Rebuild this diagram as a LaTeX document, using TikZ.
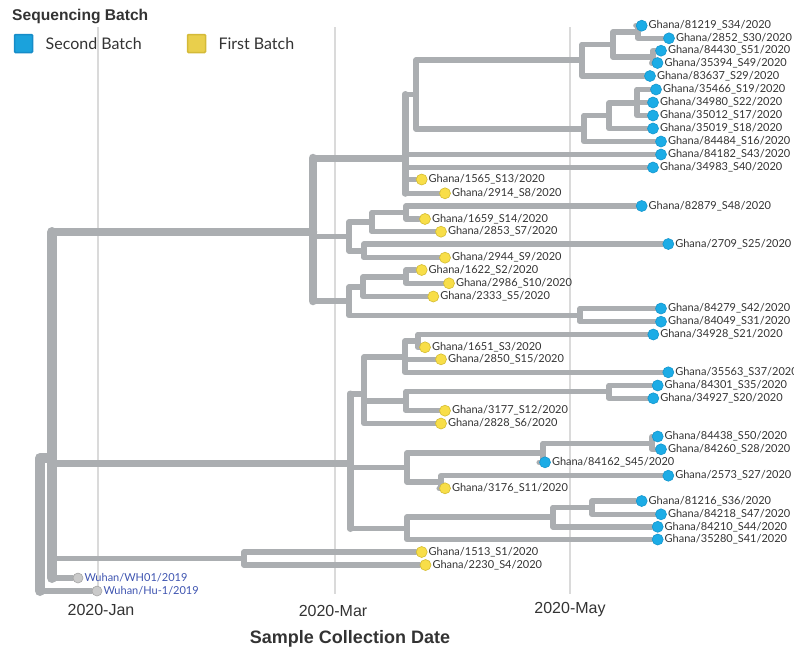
\documentclass[tikz,border=0pt]{standalone}
\usepackage{fontspec}
\setmainfont{Lato}
\newfontfamily\headfont{Liberation Sans}
\usepackage{xcolor}
\usetikzlibrary{backgrounds}

\definecolor{branchgrey}{RGB}{171,174,177}
\definecolor{gridgrey}{RGB}{218,218,218}
\definecolor{textgrey}{RGB}{51,51,51}
\definecolor{bluefill}{RGB}{28,172,230}
\definecolor{blueedge}{RGB}{20,150,205}
\definecolor{yellowfill}{RGB}{248,222,72}
\definecolor{yellowedge}{RGB}{212,188,50}
\definecolor{reffill}{RGB}{202,202,202}
\definecolor{refedge}{RGB}{165,165,165}
\definecolor{wuhanblue}{RGB}{62,84,176}
\definecolor{keyblue}{RGB}{27,162,220}
\definecolor{keyblueedge}{RGB}{22,140,200}
\definecolor{keyyellow}{RGB}{233,207,76}
\definecolor{keyyellowedge}{RGB}{212,186,56}

\begin{document}
\begin{tikzpicture}[x=1pt, y=-1pt,
    br/.style={draw=branchgrey, line width=5.5pt, line cap=round, line join=round},
    brA/.style={br, line width=10pt},
    brB/.style={br, line width=8.5pt},
    brC/.style={br, line width=7pt},
    gridline/.style={draw=gridgrey, line width=2pt},
    tip/.style={circle, minimum size=11pt, inner sep=0pt, line width=0.6pt, label distance=5pt},
    second/.style={tip, draw=blueedge, fill=bluefill},
    first/.style={tip, draw=yellowedge, fill=yellowfill},
    ref/.style={tip, minimum size=10pt, draw=refedge, fill=reffill},
    lbl/.style={font=\fontsize{11}{11}\selectfont, text=textgrey, inner sep=1pt},
    reflbl/.style={lbl, text=wuhanblue},
    keysq/.style={rectangle, rounded corners=1pt, minimum size=18pt, inner sep=0pt, line width=1.5pt},
    keylbl/.style={font=\fontsize{16}{16}\selectfont, text=textgrey, inner sep=0pt},
    headlbl/.style={font=\headfont\bfseries\fontsize{15.6}{16}\selectfont, text=textgrey, inner sep=0pt},
    axislbl/.style={font=\headfont\fontsize{16}{16}\selectfont, text=textgrey, inner sep=0pt}]

    \useasboundingbox (0,0) rectangle (794,649);

    % Legend
    \node[headlbl, anchor=base west] (keytitle) at (12,20.7) {Sequencing Batch};
    \node[keysq, draw=keyblueedge, fill=keyblue] (keysecond) at (23.5,43.5) {};
    \node[keylbl, anchor=base west] (keysecondlbl) at (45.5,49) {Second Batch};
    \node[keysq, draw=keyyellowedge, fill=keyyellow] (keyfirst) at (196.5,43.5) {};
    \node[keylbl, anchor=base west] (keyfirstlbl) at (218.3,49) {First Batch};

    % Internal nodes
    \coordinate (root) at (40,524.5);
    \coordinate (nA) at (52,458);
    \coordinate (nB) at (313,232);
    \coordinate (nC) at (350,463);
    \coordinate (nD) at (244,558.5);
    \coordinate (nE) at (405,158);
    \coordinate (nH) at (416,94.5);
    \coordinate (nI) at (582,60);
    \coordinate (nK) at (613,44.5);
    \coordinate (nL) at (638,32);
    \coordinate (nM) at (653,57);
    \coordinate (nJ) at (584,129);
    \coordinate (nN) at (609,115.5);
    \coordinate (nO) at (637,103);
    \coordinate (nF) at (349,236.5);
    \coordinate (nP) at (372,222);
    \coordinate (nR) at (406,212.5);
    \coordinate (nQ) at (364,251);
    \coordinate (nG) at (349,301);
    \coordinate (nS) at (363,287);
    \coordinate (nU) at (406,277);
    \coordinate (nT) at (580,315.5);
    \coordinate (nV) at (364,394);
    \coordinate (nY) at (405,357);
    \coordinate (nAA) at (418,341);
    \coordinate (nZ) at (406,401);
    \coordinate (nBB) at (609,391.5);
    \coordinate (nW) at (407,467.5);
    \coordinate (nCC) at (543,453);
    \coordinate (nEE) at (652,443.5);
    \coordinate (nDD) at (441,482);
    \coordinate (nX) at (407,528.5);
    \coordinate (nFF) at (553,517);
    \coordinate (nGG) at (592,507.5);

    % Tips
    \node[second, label={[lbl]right:Ghana/81219\_S34/2020}] (s34) at (641.7,25.7) {};
    \node[second, label={[lbl]right:Ghana/2852\_S30/2020}] (s30) at (669,38.3) {};
    \node[second, label={[lbl]right:Ghana/84430\_S51/2020}] (s51) at (661,50.7) {};
    \node[second, label={[lbl]right:Ghana/35394\_S49/2020}] (s49) at (657.5,63) {};
    \node[second, label={[lbl]right:Ghana/83637\_S29/2020}] (s29) at (650,76) {};
    \node[second, label={[lbl]right:Ghana/35466\_S19/2020}] (s19) at (656,89.5) {};
    \node[second, label={[lbl]right:Ghana/34980\_S22/2020}] (s22) at (653,102.5) {};
    \node[second, label={[lbl]right:Ghana/35012\_S17/2020}] (s17) at (653,115.5) {};
    \node[second, label={[lbl]right:Ghana/35019\_S18/2020}] (s18) at (653,128.5) {};
    \node[second, label={[lbl]right:Ghana/84484\_S16/2020}] (s16) at (661,141.5) {};
    \node[second, label={[lbl]right:Ghana/84182\_S43/2020}] (s43) at (661,154.5) {};
    \node[second, label={[lbl]right:Ghana/34983\_S40/2020}] (s40) at (653,167.5) {};
    \node[first, label={[lbl]right:Ghana/1565\_S13/2020}] (s13) at (421.7,179.5) {};
    \node[first, label={[lbl]right:Ghana/2914\_S8/2020}] (s8) at (445,193.3) {};
    \node[second, label={[lbl]right:Ghana/82879\_S48/2020}] (s48) at (641.7,206) {};
    \node[first, label={[lbl]right:Ghana/1659\_S14/2020}] (s14) at (425,219) {};
    \node[first, label={[lbl]right:Ghana/2853\_S7/2020}] (s7) at (441,231.7) {};
    \node[second, label={[lbl]right:Ghana/2709\_S25/2020}] (s25) at (668.3,244) {};
    \node[first, label={[lbl]right:Ghana/2944\_S9/2020}] (s9) at (445,257.7) {};
    \node[first, label={[lbl]right:Ghana/1622\_S2/2020}] (s2) at (421.7,270) {};
    \node[first, label={[lbl]right:Ghana/2986\_S10/2020}] (s10) at (449,283.3) {};
    \node[first, label={[lbl]right:Ghana/2333\_S5/2020}] (s5) at (433.3,296.5) {};
    \node[second, label={[lbl]right:Ghana/84279\_S42/2020}] (s42) at (661,308.5) {};
    \node[second, label={[lbl]right:Ghana/84049\_S31/2020}] (s31) at (661,321.7) {};
    \node[second, label={[lbl]right:Ghana/34928\_S21/2020}] (s21) at (653.3,334.5) {};
    \node[first, label={[lbl]right:Ghana/1651\_S3/2020}] (s3) at (425,347.3) {};
    \node[first, label={[lbl]right:Ghana/2850\_S15/2020}] (s15) at (441,359.3) {};
    \node[second, label={[lbl]right:Ghana/35563\_S37/2020}] (s37) at (668.3,372.3) {};
    \node[second, label={[lbl]right:Ghana/84301\_S35/2020}] (s35) at (657.7,385.5) {};
    \node[second, label={[lbl]right:Ghana/34927\_S20/2020}] (s20) at (653.3,398.3) {};
    \node[first, label={[lbl]right:Ghana/3177\_S12/2020}] (s12) at (445,410.7) {};
    \node[first, label={[lbl]right:Ghana/2828\_S6/2020}] (s6) at (441,423.5) {};
    \node[second, label={[lbl]right:Ghana/84438\_S50/2020}] (s50) at (657.7,436.5) {};
    \node[second, label={[lbl]right:Ghana/84260\_S28/2020}] (s28) at (661,449.3) {};
    \node[second, label={[lbl]right:Ghana/84162\_S45/2020}] (s45) at (545,462.3) {};
    \node[second, label={[lbl]right:Ghana/2573\_S27/2020}] (s27) at (668.3,475.7) {};
    \node[first, label={[lbl]right:Ghana/3176\_S11/2020}] (s11) at (445,488.3) {};
    \node[second, label={[lbl]right:Ghana/81216\_S36/2020}] (s36) at (641.7,501) {};
    \node[second, label={[lbl]right:Ghana/84218\_S47/2020}] (s47) at (661,514.3) {};
    \node[second, label={[lbl]right:Ghana/84210\_S44/2020}] (s44) at (657.7,526.8) {};
    \node[second, label={[lbl]right:Ghana/35280\_S41/2020}] (s41) at (657.7,539.5) {};
    \node[first, label={[lbl]right:Ghana/1513\_S1/2020}] (s1) at (421.7,552) {};
    \node[first, label={[lbl]right:Ghana/2230\_S4/2020}] (s4) at (425.5,565) {};
    \node[ref, label={[reflbl]right:Wuhan/WH01/2019}] (wh01) at (78,578) {};
    \node[ref, label={[reflbl]right:Wuhan/Hu-1/2019}] (hu1) at (97,591) {};

    % Axis
    \node[axislbl, anchor=base] (jan) at (101,615) {2020-Jan};
    \node[axislbl, anchor=base] (mar) at (333,616.7) {2020-Mar};
    \node[axislbl, anchor=base] (may) at (570,613.3) {2020-May};
    \node[headlbl, font=\headfont\bfseries\fontsize{18}{18}\selectfont, anchor=base] (xtitle) at (350,643.3) {Sample Collection Date};

    \begin{scope}[on background layer]
        % Grid
        \foreach \gx in {98,335,570}
            \draw[gridline] (\gx,27) -- (\gx,594);

        % Trunk
        \draw[brA] (nA) -| (root |- hu1);
        \draw[brB] (nA) |- (nB);
        \draw[brC] (nA) |- (nC);
        \draw[brA] (nA |- nB) -- (nA |- wh01);
        \draw[brB] (nB |- nE) -- (nB |- nG);
        \draw[brC] (nB) |- (nE);
        \draw[brC] (nE |- nH) -- (nE |- s8);
        \draw[brC] (nC |- nV) -- (nC |- nX);

        % Branches
        \foreach \p/\c in {root/hu1, nA/nD, nA/wh01, nB/nF, nB/nG,
            nE/nH, nE/s43, nE/s40, nE/s13, nE/s8, nH/nI, nH/nJ,
            nI/nK, nI/s29, nK/nL, nK/nM, nL/s34, nL/s30, nM/s51, nM/s49,
            nJ/nN, nJ/s16, nN/nO, nN/s18, nO/s19, nO/s22, nO/s17,
            nF/nP, nF/nQ, nP/nR, nP/s7, nR/s48, nR/s14, nQ/s25, nQ/s9,
            nG/nS, nG/nT, nS/nU, nS/s5, nU/s2, nU/s10, nT/s42, nT/s31,
            nC/nV, nC/nW, nC/nX, nV/nY, nV/nZ, nV/s6,
            nY/nAA, nY/s15, nY/s37, nAA/s21, nAA/s3, nZ/nBB, nZ/s12, nBB/s35, nBB/s20,
            nW/nCC, nW/nDD, nCC/nEE, nCC/s45, nEE/s50, nEE/s28, nDD/s27, nDD/s11,
            nX/nFF, nX/s41, nFF/nGG, nFF/s44, nGG/s36, nGG/s47, nD/s1, nD/s4}
            \draw[br] (\p) |- (\c);
    \end{scope}
\end{tikzpicture}
\end{document}
